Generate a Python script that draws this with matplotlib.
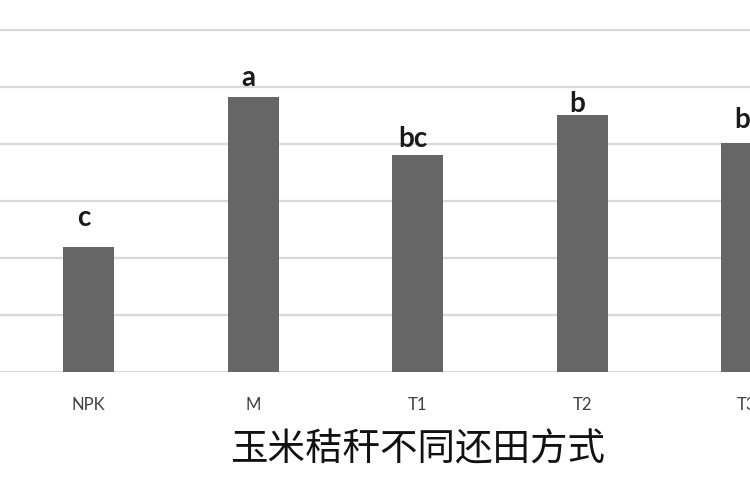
import matplotlib
matplotlib.use("Agg")
import matplotlib.pyplot as plt

# values, one gridline = 1 unit
treatments = ["NPK", "M", "T1", "T2", "T3"]
values = [2.19, 4.82, 3.81, 4.51, 4.02]
letters = ["c", "a", "bc", "b", "b"]
letter_gap = [0.52, 0.34, 0.27, 0.19, 0.40]

BAR = "#666666"
GRID = "#d9d9d9"
INK = "#1a1a1a"
MUTED = "#404040"

fig = plt.figure(figsize=(7.5, 5), dpi=100)
ax = fig.add_axes([0, 1 - 372 / 500, 1, 372 / 500])

x = range(len(treatments))
ax.bar(x, values, width=0.31, color=BAR, zorder=3)
for i, (v, lab, gap) in enumerate(zip(values, letters, letter_gap)):
    ax.text(i - 0.03, v + gap, lab, ha="center", va="center",
            fontsize=20, color=INK, family="Lato", fontweight="bold")

ax.set_xlim(-0.538, 4.02)
ax.set_ylim(0, 372 / 57)
ax.set_yticks(range(0, 7))
ax.yaxis.grid(True, color=GRID, linewidth=1.6, zorder=0)
ax.tick_params(axis="y", left=False, labelleft=False)
ax.set_xticks(list(x))
ax.set_xticklabels(treatments, fontsize=12, color=MUTED, family="Lato")
ax.tick_params(axis="x", length=0, pad=18)
for s in ax.spines.values():
    s.set_visible(False)

fig.text(418 / 750, 1 - 450 / 500, "玉米秸秆不同还田方式", ha="center", va="center",
         fontsize=27, color="#111111", family=["Noto Sans CJK SC", "DejaVu Sans"])

fig.savefig("out.png", dpi=100, facecolor="white")
